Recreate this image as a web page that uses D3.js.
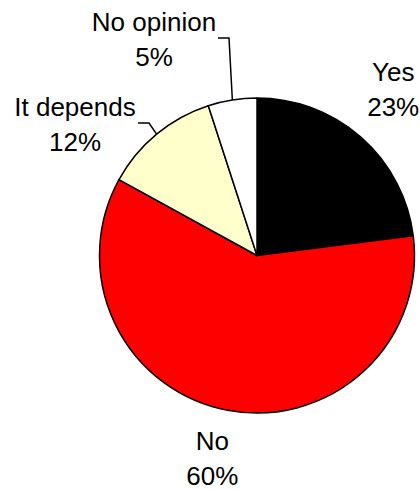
<!DOCTYPE html>
<html>
<head>
<meta charset="utf-8">
<script src="https://cdn.jsdelivr.net/npm/d3@7"></script>
<style>
  html, body { margin: 0; padding: 0; background: #fff; }
  svg { display: block; }
  text { font-family: "Liberation Sans", Arial, sans-serif; font-size: 26px; fill: #000; }
</style>
</head>
<body>
<svg id="chart" width="420" height="490"></svg>
<script>
// ---- data ----
const categories = ["Yes", "No", "It depends", "No opinion"];
const values = [23, 60, 12, 5];
const colors = ["#000000", "#FF0000", "#FFFFCC", "#FFFFFF"];

// ---- layout (not data) ----
const W = 420, H = 490;
const cx = 257, cy = 255.5, R = 157.5;
const lineGap = 35;
// label placement: polar for labels near their slice, explicit for moved labels (with leaders)
const labelLayout = [
  { mode: "polar", r: 206, dx: 0, dy: -2 },
  { mode: "polar", r: 212, dx: -5, dy: 4 },
  { mode: "fixed", x: 75, y: 133, leader: [[149, 123], [138, 123]] },
  { mode: "fixed", x: 154, y: 48, leader: [[229, 38], [218, 38]] }
];

const svg = d3.select("#chart");
const g = svg.append("g").attr("transform", `translate(${cx},${cy})`);

const pie = d3.pie().sort(null).value(d => d.value);
const arc = d3.arc().innerRadius(0).outerRadius(R);
const data = categories.map((c, i) => ({ cat: c, value: values[i], color: colors[i] }));
const arcs = pie(data);

g.selectAll("path.slice")
  .data(arcs)
  .enter().append("path")
  .attr("class", "slice")
  .attr("d", arc)
  .attr("fill", d => d.data.color)
  .attr("stroke", "#000")
  .attr("stroke-width", 1.5)
  .attr("stroke-linejoin", "round");

const total = d3.sum(values);
const fmt = v => Math.round(v / total * 100) + "%";

arcs.forEach((a, i) => {
  const mid = (a.startAngle + a.endAngle) / 2;
  const L = labelLayout[i];
  let lx, ly;
  if (L.mode === "polar") {
    lx = Math.sin(mid) * L.r + L.dx;
    ly = -Math.cos(mid) * L.r + L.dy;
  } else {
    lx = L.x - cx;
    ly = L.y - cy;
    const edge = [Math.sin(mid) * R, -Math.cos(mid) * R];
    const pts = [edge].concat(L.leader.map(p => [p[0] - cx, p[1] - cy]));
    g.append("path")
      .attr("d", d3.line()(pts))
      .attr("fill", "none")
      .attr("stroke", "#000")
      .attr("stroke-width", 1.5);
  }
  const t = g.append("text")
    .attr("text-anchor", "middle")
    .attr("x", lx)
    .attr("y", ly);
  t.append("tspan").attr("x", lx).attr("dy", -lineGap / 2).text(a.data.cat);
  t.append("tspan").attr("x", lx).attr("dy", lineGap).text(fmt(a.data.value));
});
</script>
</body>
</html>
